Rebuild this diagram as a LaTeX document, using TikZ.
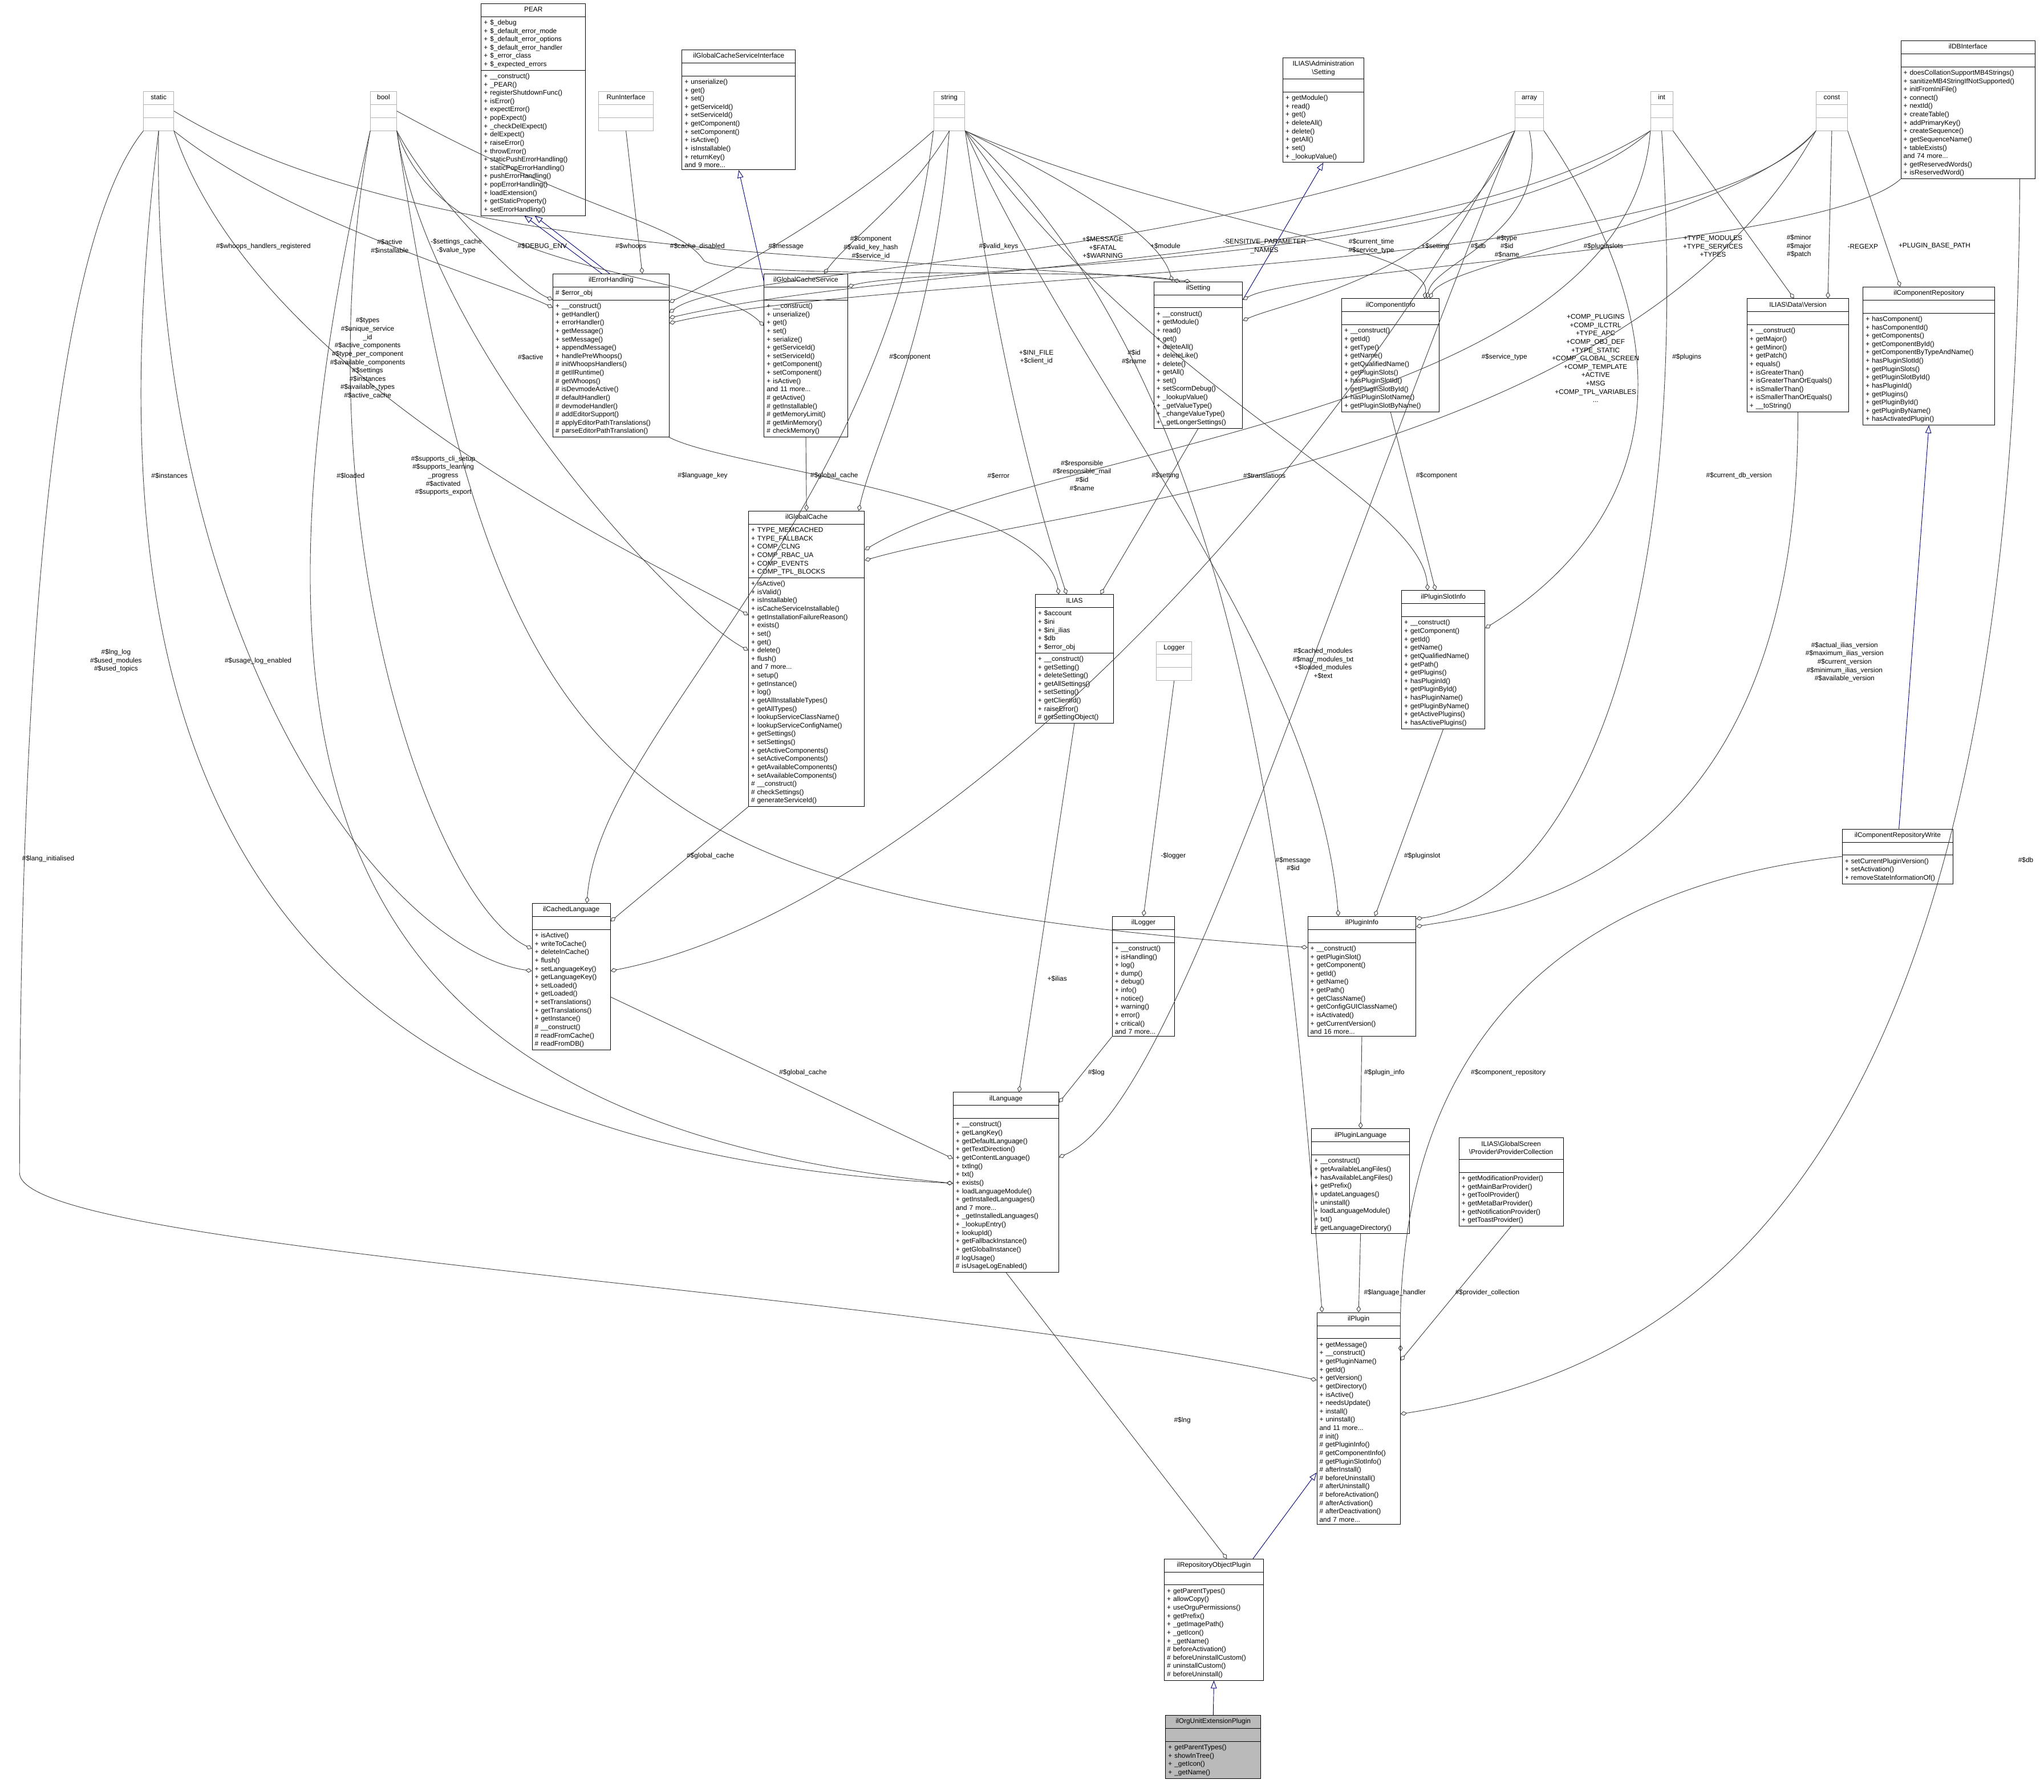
\documentclass[tikz,border=0pt]{standalone}
\usepackage{fontspec}
\setmainfont{Liberation Sans}
\usetikzlibrary{arrows.meta, shapes.multipart}
\def\umlfont{\fontsize{5.2}{6.4}\selectfont}

% class box: [style] name, position, width, title, attributes, methods
\newcommand{\umlclass}[7][]{%
  \node[cls, text width=#4, #1] (#2) at (#3)
    {\makebox[\hsize][c]{\begin{tabular}{@{}c@{}}#5\end{tabular}}\nodepart{two}\strut #6\nodepart{three}\strut #7};}

\begin{document}
\begin{tikzpicture}[
    x=1pt, y=-1pt,
    font=\umlfont,
    cls/.style = {rectangle split, rectangle split parts=3, draw=black, fill=white,
                  anchor=north west, align=left, inner xsep=2pt, inner ysep=1.6pt,
                  font=\umlfont},
    ext/.style = {draw=black!30},
    comp/.style = {draw=black!75, thin, -{Diamond[open,length=5pt,width=3.4pt]}},
    inh/.style = {draw=blue!45!black, thin, -{Triangle[open,length=6pt,width=4.6pt]}},
    lbl/.style = {font=\umlfont, align=center, inner sep=0pt}
    ]
  \useasboundingbox (0,0) rectangle (1568,1375);

  %%% top row %%%
  \umlclass[ext]{static}{110,70}{19pt}{static}{}{}
  \umlclass[ext]{bool}{284,70}{16pt}{bool}{}{}
  \umlclass{PEAR}{369,2.5}{76pt}{PEAR}
    {+ \$\_debug\\+ \$\_default\_error\_mode\\+ \$\_default\_error\_options\\+ \$\_default\_error\_handler\\+ \$\_error\_class\\+ \$\_expected\_errors}
    {+ \_\_construct()\\+ \_PEAR()\\+ registerShutdownFunc()\\+ isError()\\+ expectError()\\+ popExpect()\\+ \_checkDelExpect()\\+ delExpect()\\+ raiseError()\\+ throwError()\\+ staticPushErrorHandling()\\+ staticPopErrorHandling()\\+ pushErrorHandling()\\+ popErrorHandling()\\+ loadExtension()\\+ getStaticProperty()\\+ setErrorHandling()}
  \umlclass[ext]{runiface}{459,70}{38pt}{RunInterface}{}{}
  \umlclass{cacheiface}{523,38}{83pt}{ilGlobalCacheServiceInterface}{}
    {+ unserialize()\\+ get()\\+ set()\\+ getServiceId()\\+ setServiceId()\\+ getComponent()\\+ setComponent()\\+ isActive()\\+ isInstallable()\\+ returnKey()\\and 9 more...}
  \umlclass[ext]{string}{716,70}{20pt}{string}{}{}
  \umlclass{admsetting}{984,44}{58pt}{ILIAS\textbackslash Administration\\\textbackslash Setting}{}
    {+ getModule()\\+ read()\\+ get()\\+ deleteAll()\\+ delete()\\+ getAll()\\+ set()\\+ \_lookupValue()}
  \umlclass[ext]{array}{1162,70}{18pt}{array}{}{}
  \umlclass[ext]{int}{1266,70}{13pt}{int}{}{}
  \umlclass[ext]{const}{1393,70}{20pt}{const}{}{}
  \umlclass{dbiface}{1458,31}{99pt}{ilDBInterface}{}
    {+ doesCollationSupportMB4Strings()\\+ sanitizeMB4StringIfNotSupported()\\+ initFromIniFile()\\+ connect()\\+ nextId()\\+ createTable()\\+ addPrimaryKey()\\+ createSequence()\\+ getSequenceName()\\+ tableExists()\\and 74 more...\\+ getReservedWords()\\+ isReservedWord()}

  %%% second row %%%
  \umlclass{errhandling}{424,210}{85pt}{ilErrorHandling}{\# \$error\_obj}
    {+ \_\_construct()\\+ getHandler()\\+ errorHandler()\\+ getMessage()\\+ setMessage()\\+ appendMessage()\\+ handlePreWhoops()\\\# initWhoopsHandlers()\\\# getIlRuntime()\\\# getWhoops()\\\# isDevmodeActive()\\\# defaultHandler()\\\# devmodeHandler()\\\# addEditorSupport()\\\# applyEditorPathTranslations()\\\# parseEditorPathTranslation()}
  \umlclass{cacheservice}{586,210}{60pt}{ilGlobalCacheService}{}
    {+ \_\_construct()\\+ unserialize()\\+ get()\\+ set()\\+ serialize()\\+ getServiceId()\\+ setServiceId()\\+ getComponent()\\+ setComponent()\\+ isActive()\\and 11 more...\\\# getActive()\\\# getInstallable()\\\# getMemoryLimit()\\\# getMinMemory()\\\# checkMemory()}
  \umlclass{setting}{885,216}{64pt}{ilSetting}{}
    {+ \_\_construct()\\+ getModule()\\+ read()\\+ get()\\+ deleteAll()\\+ deleteLike()\\+ delete()\\+ getAll()\\+ set()\\+ setScormDebug()\\+ \_lookupValue()\\+ \_getValueType()\\+ \_changeValueType()\\+ \_getLongerSettings()}
  \umlclass{compinfo}{1029,229}{71pt}{ilComponentInfo}{}
    {+ \_\_construct()\\+ getId()\\+ getType()\\+ getName()\\+ getQualifiedName()\\+ getPluginSlots()\\+ hasPluginSlotId()\\+ getPluginSlotById()\\+ hasPluginSlotName()\\+ getPluginSlotByName()}
  \umlclass{version}{1340,229}{74pt}{ILIAS\textbackslash Data\textbackslash Version}{}
    {+ \_\_construct()\\+ getMajor()\\+ getMinor()\\+ getPatch()\\+ equals()\\+ isGreaterThan()\\+ isGreaterThanOrEquals()\\+ isSmallerThan()\\+ isSmallerThanOrEquals()\\+ \_\_toString()}
  \umlclass{comprepo}{1429,220}{97pt}{ilComponentRepository}{}
    {+ hasComponent()\\+ hasComponentId()\\+ getComponents()\\+ getComponentById()\\+ getComponentByTypeAndName()\\+ hasPluginSlotId()\\+ getPluginSlots()\\+ getPluginSlotById()\\+ hasPluginId()\\+ getPlugins()\\+ getPluginById()\\+ getPluginByName()\\+ hasActivatedPlugin()}

  %%% middle %%%
  \umlclass{globalcache}{574,392}{85pt}{ilGlobalCache}
    {+ TYPE\_MEMCACHED\\+ TYPE\_FALLBACK\\+ COMP\_CLNG\\+ COMP\_RBAC\_UA\\+ COMP\_EVENTS\\+ COMP\_TPL\_BLOCKS}
    {+ isActive()\\+ isValid()\\+ isInstallable()\\+ isCacheServiceInstallable()\\+ getInstallationFailureReason()\\+ exists()\\+ set()\\+ get()\\+ delete()\\+ flush()\\and 7 more...\\+ setup()\\+ getInstance()\\+ log()\\+ getAllInstallableTypes()\\+ getAllTypes()\\+ lookupServiceClassName()\\+ lookupServiceConfigName()\\+ getSettings()\\+ setSettings()\\+ getActiveComponents()\\+ setActiveComponents()\\+ getAvailableComponents()\\+ setAvailableComponents()\\\# \_\_construct()\\\# checkSettings()\\\# generateServiceId()}
  \umlclass{ilias}{794,456}{56pt}{ILIAS}
    {+ \$account\\+ \$ini\\+ \$ini\_ilias\\+ \$db\\+ \$error\_obj}
    {+ \_\_construct()\\+ getSetting()\\+ deleteSetting()\\+ getAllSettings()\\+ setSetting()\\+ getClientId()\\+ raiseError()\\\# getSettingObject()}
  \umlclass[ext]{logger}{887,492}{23pt}{Logger}{}{}
  \umlclass{slotinfo}{1075,453}{60pt}{ilPluginSlotInfo}{}
    {+ \_\_construct()\\+ getComponent()\\+ getId()\\+ getName()\\+ getQualifiedName()\\+ getPath()\\+ getPlugins()\\+ hasPluginId()\\+ getPluginById()\\+ hasPluginName()\\+ getPluginByName()\\+ getActivePlugins()\\+ hasActivePlugins()}
  \umlclass{repowrite}{1413,636}{81pt}{ilComponentRepositoryWrite}{}
    {+ setCurrentPluginVersion()\\+ setActivation()\\+ removeStateInformationOf()}
  \umlclass{cachedlang}{408,693}{56pt}{ilCachedLanguage}{}
    {+ isActive()\\+ writeToCache()\\+ deleteInCache()\\+ flush()\\+ setLanguageKey()\\+ getLanguageKey()\\+ setLoaded()\\+ getLoaded()\\+ setTranslations()\\+ getTranslations()\\+ getInstance()\\\# \_\_construct()\\\# readFromCache()\\\# readFromDB()}
  \umlclass{illogger}{853,703}{44pt}{ilLogger}{}
    {+ \_\_construct()\\+ isHandling()\\+ log()\\+ dump()\\+ debug()\\+ info()\\+ notice()\\+ warning()\\+ error()\\+ critical()\\and 7 more...}
  \umlclass{plugininfo}{1003,703}{79pt}{ilPluginInfo}{}
    {+ \_\_construct()\\+ getPluginSlot()\\+ getComponent()\\+ getId()\\+ getName()\\+ getPath()\\+ getClassName()\\+ getConfigGUIClassName()\\+ isActivated()\\+ getCurrentVersion()\\and 16 more...}

  %%% lower part %%%
  \umlclass{language}{731,838}{77pt}{ilLanguage}{}
    {+ \_\_construct()\\+ getLangKey()\\+ getDefaultLanguage()\\+ getTextDirection()\\+ getContentLanguage()\\+ txtlng()\\+ txt()\\+ exists()\\+ loadLanguageModule()\\+ getInstalledLanguages()\\and 7 more...\\+ \_getInstalledLanguages()\\+ \_lookupEntry()\\+ lookupId()\\+ getFallbackInstance()\\+ getGlobalInstance()\\\# logUsage()\\\# isUsageLogEnabled()}
  \umlclass{pluginlang}{1006,866}{71pt}{ilPluginLanguage}{}
    {+ \_\_construct()\\+ getAvailableLangFiles()\\+ hasAvailableLangFiles()\\+ getPrefix()\\+ updateLanguages()\\+ uninstall()\\+ loadLanguageModule()\\+ txt()\\\# getLanguageDirectory()}
  \umlclass{providers}{1119,873}{76pt}{ILIAS\textbackslash GlobalScreen\\\textbackslash Provider\textbackslash ProviderCollection}{}
    {+ getModificationProvider()\\+ getMainBarProvider()\\+ getToolProvider()\\+ getMetaBarProvider()\\+ getNotificationProvider()\\+ getToastProvider()}
  \umlclass{plugin}{1010,1007}{60pt}{ilPlugin}{}
    {+ getMessage()\\+ \_\_construct()\\+ getPluginName()\\+ getId()\\+ getVersion()\\+ getDirectory()\\+ isActive()\\+ needsUpdate()\\+ install()\\+ uninstall()\\and 11 more...\\\# init()\\\# getPluginInfo()\\\# getComponentInfo()\\\# getPluginSlotInfo()\\\# afterInstall()\\\# beforeUninstall()\\\# afterUninstall()\\\# beforeActivation()\\\# afterActivation()\\\# afterDeactivation()\\and 7 more...}
  \umlclass{repoplugin}{893,1196}{72pt}{ilRepositoryObjectPlugin}{}
    {+ getParentTypes()\\+ allowCopy()\\+ useOrguPermissions()\\+ getPrefix()\\+ \_getImagePath()\\+ \_getIcon()\\+ \_getName()\\\# beforeActivation()\\\# beforeUninstallCustom()\\\# uninstallCustom()\\\# beforeUninstall()}
  \umlclass[fill=black!27]{orguplugin}{894,1316}{69pt}{ilOrgUnitExtensionPlugin}{}
    {+ getParentTypes()\\+ showInTree()\\+ \_getIcon()\\+ \_getName()}

  % Inheritance
  \draw[inh] ([xshift=-7pt]errhandling.north) -- ([xshift=-7pt]PEAR.south);
  \draw[inh] ([xshift=-1pt]errhandling.north) -- ([xshift=1pt]PEAR.south);
  \draw[inh] ([yshift=-6pt]cacheservice.north west) -- (cacheiface.south);
  \draw[inh] ([yshift=-14pt]setting.north east) -- (admsetting.south);
  \draw[inh] ([xshift=1pt]repowrite.north) -- (comprepo.south);
  \draw[inh] ([xshift=30pt]repoplugin.north) -- ([yshift=40pt]plugin.south west);
  \draw[inh] (orguplugin.north) -- (repoplugin.south);

  % Members
  \draw[comp] (static.south east) .. controls (220,170) and (380,215) .. ([yshift=-26pt]errhandling.north west);
  \draw[comp] (bool.south east) .. controls (340,215) and (540,205) .. ([yshift=-40pt]cacheservice.north west);
  \draw[comp] (static.east) .. controls (330,205) and (700,195) .. ([xshift=-6pt]setting.north);
  \draw[comp] (bool.south east) .. controls (330,150) and (400,220) .. ([yshift=-20pt]errhandling.north west);
  \draw[comp] (runiface.south) -- ([xshift=24pt]errhandling.north);
  \draw[comp] (bool.east) .. controls (450,165) and (520,170) .. (540,200) .. controls (560,215) and (860,205) .. ([xshift=-14pt]setting.north);
  \draw[comp] (string.south west) .. controls (650,160) and (560,210) .. ([yshift=-22pt]errhandling.north east);
  \draw[comp] (string.south) .. controls (700,150) and (650,185) .. ([xshift=14pt]cacheservice.north);
  \draw[comp] (array.south west) .. controls (900,205) and (560,205) .. ([yshift=-30pt]errhandling.north east);
  \draw[comp] (int.south west) .. controls (1100,205) and (700,200) .. ([yshift=-34pt]errhandling.north east);
  \draw[comp] (string.south east) .. controls (820,140) and (890,180) .. ([xshift=-20pt]setting.north);
  \draw[comp] (const.south west) .. controls (1300,215) and (700,205) .. ([yshift=-38pt]errhandling.north east);
  \draw[comp] (int.south west) .. controls (1150,205) and (700,205) .. ([yshift=-10pt]cacheservice.north east);
  \draw[comp] (array.south west) .. controls (1120,210) and (990,230) .. ([yshift=-30pt]setting.north east);
  \draw[comp] (dbiface.south west) .. controls (1400,190) and (1000,205) .. ([yshift=-14pt]setting.north east);
  \draw[comp] (string.south east) .. controls (900,170) and (1100,190) .. ([xshift=26pt]compinfo.north);
  \draw[comp] (array.south) .. controls (1190,180) and (1100,200) .. ([xshift=28pt]compinfo.north);
  \draw[comp] (const.south west) .. controls (1330,170) and (1110,200) .. ([xshift=30pt]compinfo.north);
  \draw[comp] (int.south east) -- ([xshift=-3pt]version.north);
  \draw[comp] (const.south) -- ([xshift=23pt]version.north);
  \draw[comp] (const.south east) -- ([xshift=-22pt]comprepo.north);
  \draw[comp] (static.south east) .. controls (200,300) and (520,440) .. ([yshift=-80pt]globalcache.north west);
  \draw[comp] (bool.south east) .. controls (330,270) and (520,470) .. ([yshift=-107pt]globalcache.north west);
  \draw[comp] (string.south) .. controls (716,260) and (670,340) .. ([xshift=40pt]globalcache.north);
  \draw[comp] (cacheservice.south) -- (globalcache.north);
  \draw[comp] (static.south) .. controls (115,500) and (300,730) .. ([yshift=-52pt]cachedlang.north west);
  \draw[comp] (bool.south west) .. controls (230,400) and (330,690) .. ([yshift=-35pt]cachedlang.north west);
  \draw[comp] (bool.south east) .. controls (380,600) and (470,690) .. ([yshift=-24pt]plugininfo.north west);
  \draw[comp] (string.south west) .. controls (680,400) and (460,560) .. ([xshift=12pt]cachedlang.north);
  \draw[comp] (errhandling.south east) .. controls (560,360) and (800,380) .. ([xshift=-12pt]ilias.north);
  \draw[comp] (string.south east) .. controls (770,300) and (800,400) .. ([xshift=-6pt]ilias.north);
  \draw[comp] (string.south east) .. controls (880,300) and (1090,380) .. ([xshift=-12pt]slotinfo.north);
  \draw[comp] (string.south east) .. controls (830,300) and (1010,500) .. ([xshift=-18pt]plugininfo.north);
  \draw[comp] (setting.south) -- ([xshift=20pt]ilias.north);
  \draw[comp] (array.south west) .. controls (1000,400) and (700,700) .. ([yshift=-52pt]cachedlang.north east);
  \draw[comp] (int.south west) .. controls (1250,320) and (800,340) .. ([yshift=-30pt]globalcache.north east);
  \draw[comp] (const.south west) .. controls (1250,360) and (800,390) .. ([yshift=-38pt]globalcache.north east);
  \draw[comp] (compinfo.south) -- ([xshift=-6pt]slotinfo.north);
  \draw[comp] (array.south east) .. controls (1320,300) and (1240,420) .. ([yshift=-29pt]slotinfo.north east);
  \draw[comp] (int.south) .. controls (1300,500) and (1200,690) .. ([yshift=-2pt]plugininfo.north east);
  \draw[comp] (version.south) .. controls (1380,680) and (1150,700) .. ([yshift=-8pt]plugininfo.north east);
  \draw[comp] (slotinfo.south) -- ([xshift=10pt]plugininfo.north);
  \draw[comp] (array.south west) .. controls (1000,500) and (900,850) .. ([yshift=-50pt]language.north east);
  \draw[comp] (logger.south) -- ([xshift=0pt]illogger.north);
  \draw[comp] (ilias.south) -- ([xshift=10pt]language.north);
  \draw[comp] (illogger.south west) -- ([yshift=-8pt]language.north east);
  \draw[comp] (static.south) .. controls (60,600) and (200,880) .. ([yshift=-70pt]language.north west);
  \draw[comp] (bool.south west) .. controls (170,600) and (250,860) .. ([yshift=-70pt]language.north west);
  \draw[comp] (globalcache.south west) -- ([yshift=-14pt]cachedlang.north east);
  \draw[comp] ([yshift=-72pt]cachedlang.north east) -- ([yshift=-51pt]language.north west);
  \coordinate (bendL) at (15,900);
  \draw[comp] (static.south west) .. controls (30,200) and (15,600) .. (bendL) .. controls (15,960) and (700,990) .. ([yshift=-52pt]plugin.north west);
  \draw[comp] (string.south east) .. controls (960,300) and (990,700) .. ([xshift=-28pt]plugin.north);
  \draw[comp] (plugininfo.south) -- (pluginlang.north);
  \draw[comp] (pluginlang.south) -- (plugin.north);
  \draw[comp] (providers.south) -- ([yshift=-37pt]plugin.north east);
  \draw[comp] (repowrite.west) .. controls (1200,680) and (1070,800) .. ([yshift=-30pt]plugin.north east);
  \draw[comp] ([xshift=-12pt]dbiface.south east) .. controls (1546,900) and (1300,1050) .. ([yshift=-78pt]plugin.north east);
  \draw[comp] (language.south) -- ([xshift=10pt]repoplugin.north);

  % Labels
  \node[lbl] (l01) at (202,189) {\#\$whoops\_handlers\_registered};
  \node[lbl] (l02) at (299,189) {\#\$active\\\#\$installable};
  \node[lbl] (l03) at (350,189) {-\$settings\_cache\\-\$value\_type};
  \node[lbl] (l04) at (416,189) {\#\$DEBUG\_ENV};
  \node[lbl] (l05) at (484,189) {\#\$whoops};
  \node[lbl] (l06) at (535,189) {\#\$cache\_disabled};
  \node[lbl] (l07) at (603,189) {\#\$message};
  \node[lbl] (l08) at (668,190) {\#\$component\\\#\$valid\_key\_hash\\\#\$service\_id};
  \node[lbl] (l09) at (766,189) {\#\$valid\_keys};
  \node[lbl] (l10) at (846,190) {+\$MESSAGE\\+\$FATAL\\+\$WARNING};
  \node[lbl] (l11) at (894,189) {+\$module};
  \node[lbl] (l12) at (970,189) {-SENSITIVE\_PARAMETER\\\_NAMES};
  \node[lbl] (l13) at (1052,189) {\#\$current\_time\\\#\$service\_type};
  \node[lbl] (l14) at (1101,189) {+\$setting};
  \node[lbl] (l15) at (1134,189) {\#\$db};
  \node[lbl] (l16) at (1156,189) {\#\$type\\\#\$id\\\#\$name};
  \node[lbl] (l17) at (1230,189) {\#\$pluginslots};
  \node[lbl] (l18) at (1314,189) {+TYPE\_MODULES\\+TYPE\_SERVICES\\+TYPES};
  \node[lbl] (l19) at (1380,189) {\#\$minor\\\#\$major\\\#\$patch};
  \node[lbl] (l20) at (1429,189) {-REGEXP};
  \node[lbl] (l21) at (1484,189) {+PLUGIN\_BASE\_PATH};
  \node[lbl] (l22) at (282,275) {\#\$types\\\#\$unique\_service\\\_id\\\#\$active\_components\\\#\$type\_per\_component\\\#\$available\_components\\\#\$settings\\\#\$instances\\\#\$available\_types\\\#\$active\_cache};
  \node[lbl] (l23) at (407,274) {\#\$active};
  \node[lbl] (l24) at (698,274) {\#\$component};
  \node[lbl] (l25) at (640,365) {\#\$global\_cache};
  \node[lbl] (l26) at (130,365) {\#\$instances};
  \node[lbl] (l27) at (269,365) {\#\$loaded};
  \node[lbl] (l28) at (340,365) {\#\$supports\_cli\_setup\\\#\$supports\_learning\\\_progress\\\#\$activated\\\#\$supports\_export};
  \node[lbl] (l29) at (539,365) {\#\$language\_key};
  \node[lbl] (l30) at (766,365) {\#\$error};
  \node[lbl] (l31) at (795,274) {+\$INI\_FILE\\+\$client\_id};
  \node[lbl] (l32) at (870,274) {\#\$id\\\#\$name};
  \node[lbl] (l33) at (830,365) {\#\$responsible\\\#\$responsible\_mail\\\#\$id\\\#\$name};
  \node[lbl] (l34) at (894,365) {\#\$setting};
  \node[lbl] (l35) at (970,365) {\#\$translations};
  \node[lbl] (l36) at (1154,274) {\#\$service\_type};
  \node[lbl] (l37) at (1224,275) {+COMP\_PLUGINS\\+COMP\_ILCTRL\\+TYPE\_APC\\+COMP\_OBJ\_DEF\\+TYPE\_STATIC\\+COMP\_GLOBAL\_SCREEN\\+COMP\_TEMPLATE\\+ACTIVE\\+MSG\\+COMP\_TPL\_VARIABLES\\...};
  \node[lbl] (l38) at (1102,365) {\#\$component};
  \node[lbl] (l39) at (1294,274) {\#\$plugins};
  \node[lbl] (l40) at (1334,365) {\#\$current\_db\_version};
  \node[lbl] (l41) at (1415,508) {\#\$actual\_ilias\_version\\\#\$maximum\_ilias\_version\\\#\$current\_version\\\#\$minimum\_ilias\_version\\\#\$available\_version};
  \node[lbl] (l42) at (1091,657) {\#\$pluginslot};
  \node[lbl] (l43) at (1015,509) {\#\$cached\_modules\\\#\$map\_modules\_txt\\+\$loaded\_modules\\+\$text};
  \node[lbl] (l44) at (900,657) {-\$logger};
  \node[lbl] (l45) at (811,751) {+\$ilias};
  \node[lbl] (l46) at (841,823) {\#\$log};
  \node[lbl] (l47) at (89,507) {\#\$lng\_log\\\#\$used\_modules\\\#\$used\_topics};
  \node[lbl] (l48) at (198,507) {\#\$usage\_log\_enabled};
  \node[lbl] (l49) at (545,657) {\#\$global\_cache};
  \node[lbl] (l50) at (616,823) {\#\$global\_cache};
  \node[lbl] (l51) at (37,659) {\#\$lang\_initialised};
  \node[lbl] (l52) at (992,663) {\#\$message\\\#\$id};
  \node[lbl] (l53) at (1062,823) {\#\$plugin\_info};
  \node[lbl] (l54) at (1070,992) {\#\$language\_handler};
  \node[lbl] (l55) at (1141,992) {\#\$provider\_collection};
  \node[lbl] (l56) at (1157,823) {\#\$component\_repository};
  \node[lbl] (l57) at (1554,660) {\#\$db};
  \node[lbl] (l58) at (907,1090) {\#\$lng};
\end{tikzpicture}
\end{document}
